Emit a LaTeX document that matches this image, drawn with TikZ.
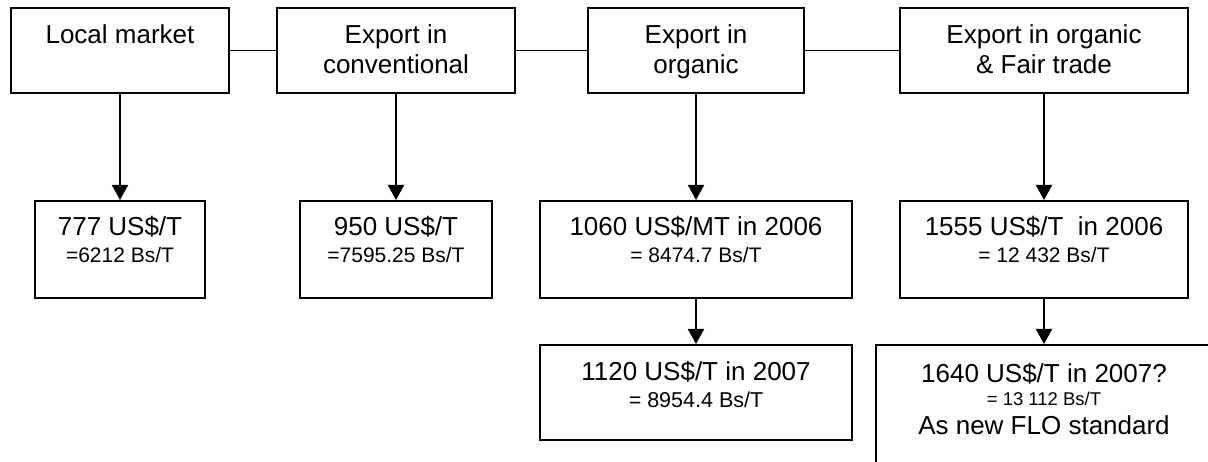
\documentclass[tikz,border=0pt]{standalone}
\usepackage{fontspec}
\setmainfont{Liberation Sans}
\usetikzlibrary{arrows.meta}

% text block of a box: width, height, contents set from the top
\newcommand\cellbox[3]{\parbox[t][#2][t]{#1}{\centering\parskip=0pt #3\par}}
\newcommand\bigtxt{\fontsize{26}{30}\selectfont}
\newcommand\midtxt{\fontsize{21}{27}\selectfont}

\begin{document}
\begin{tikzpicture}[x=1pt,y=-1pt,
  box/.style={draw, line width=2pt, inner sep=0pt, anchor=north west},
  link/.style={line width=1.6pt},
  arr/.style={line width=1.8pt, -{Triangle[length=15pt,width=16pt]}}]
\useasboundingbox (0,0) rectangle (1208,462);
\fill[white] (0,0) rectangle (1208,462);
\clip (0,0) rectangle (1208,462);

% market channels
\node[box] (t1) at (10,7)  {\cellbox{218pt}{85pt}{\bigtxt\rule{0pt}{36pt}Local market}};
\node[box] (t2) at (276,7) {\cellbox{238pt}{85pt}{\bigtxt\rule{0pt}{36pt}Export in\par conventional}};
\node[box] (t3) at (587,7) {\cellbox{216pt}{85pt}{\bigtxt\rule{0pt}{36pt}Export in\par organic}};
\node[box] (t4) at (899,7) {\cellbox{288pt}{85pt}{\bigtxt\rule{0pt}{36pt}Export in organic\par \& Fair trade}};

% prices
\node[box] (m1) at (34,200)  {\cellbox{170pt}{97pt}{\bigtxt\rule{0pt}{35pt}777 US\$/T\par\midtxt =6212 Bs/T}};
\node[box] (m2) at (299,200) {\cellbox{192pt}{97pt}{\bigtxt\rule{0pt}{35pt}950 US\$/T\par\midtxt =7595.25 Bs/T}};
\node[box] (m3) at (539,200) {\cellbox{312pt}{97pt}{\bigtxt\rule{0pt}{35pt}1060 US\$/MT in 2006\par\midtxt = 8474.7 Bs/T}};
\node[box] (m4) at (899,200) {\cellbox{288pt}{97pt}{\bigtxt\rule{0pt}{35pt}1555 US\$/T\ \ in 2006\par\midtxt = 12 432 Bs/T}};

% later prices
\node[box] (b1) at (539,344) {\cellbox{312pt}{95pt}{\bigtxt\rule{0pt}{36pt}1120 US\$/T in 2007\par\fontsize{21.5}{27}\selectfont = 8954.4 Bs/T}};
\node[box] (b2) at (875,344) {\cellbox{336pt}{140pt}{\bigtxt\rule{0pt}{37pt}1640 US\$/T in 2007?\par\fontsize{18.5}{24}\selectfont = 13 112 Bs/T\par\fontsize{26}{28}\selectfont As new FLO standard}};

% connectors
\draw[link] (t1.east) -- (t2.west);
\draw[link] (t2.east) -- (t3.west);
\draw[link] (t3.east) -- (t4.west);

\draw[arr] (t1.south) -- (m1.north -| t1.south);
\draw[arr] (t2.south) -- (m2.north -| t2.south);
\draw[arr] (t3.south) -- (m3.north -| t3.south);
\draw[arr] (t4.south) -- (m4.north -| t4.south);
\draw[arr] (m3.south) -- (b1.north -| m3.south);
\draw[arr] (m4.south) -- (b2.north -| m4.south);
\end{tikzpicture}
\end{document}
